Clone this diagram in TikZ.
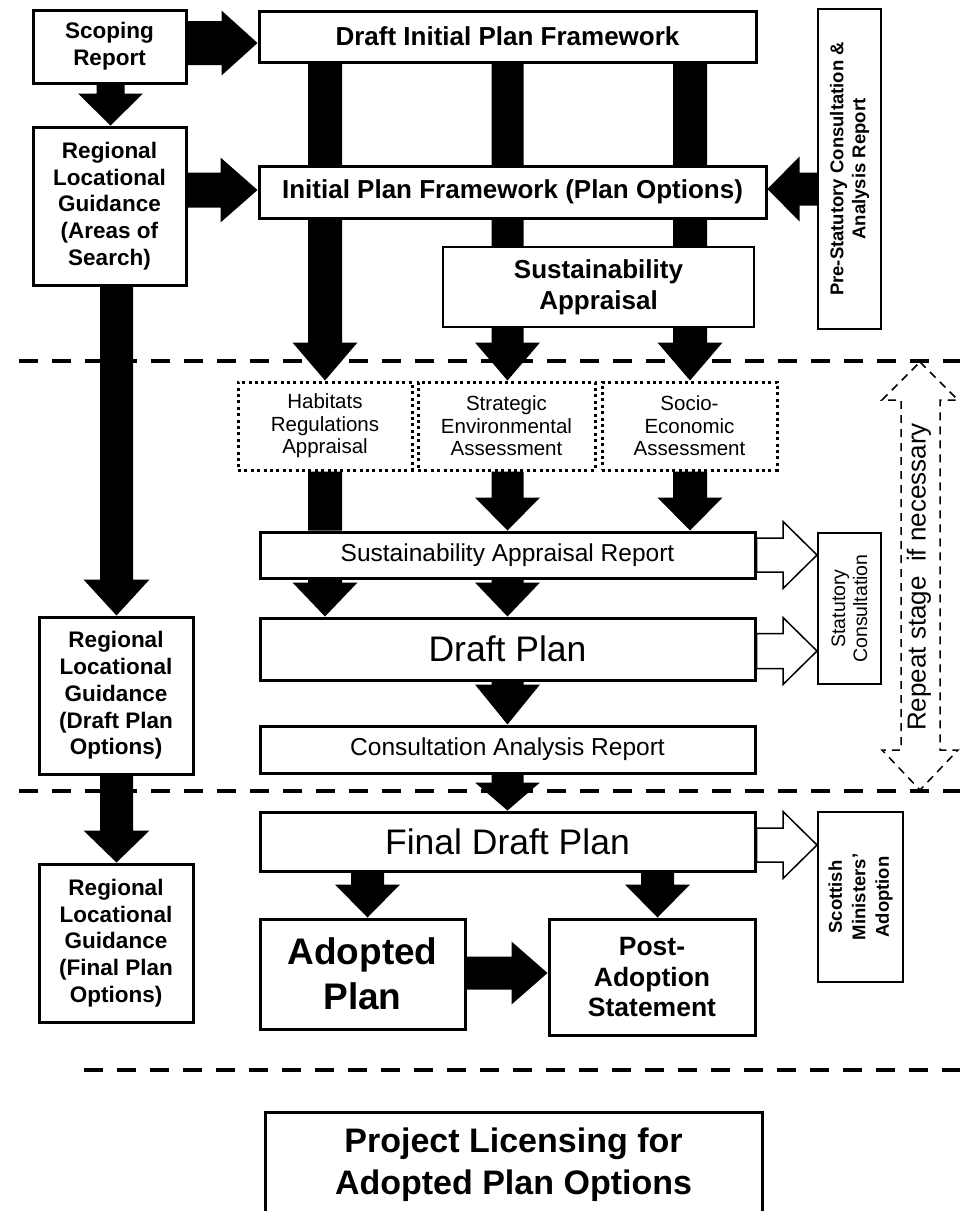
\documentclass[tikz,border=0pt]{standalone}
\usepackage{fontspec}
\setmainfont{Liberation Sans}
\usetikzlibrary{calc,backgrounds}
\newcommand\fs[2]{\fontsize{#1pt}{#2pt}\selectfont}
% down arrow: style, x, from, to, shaft half, head half, head length
\newcommand\darr[7]{%
 \path[#1] let \p1=(#3), \p2=(#4) in
  ({(#2-#5)*1pt},\y1) -- ({(#2+#5)*1pt},\y1) -- ({(#2+#5)*1pt},{\y2+#7pt})
  -- ({(#2+#6)*1pt},{\y2+#7pt}) -- ({#2*1pt},\y2) -- ({(#2-#6)*1pt},{\y2+#7pt})
  -- ({(#2-#5)*1pt},{\y2+#7pt}) -- cycle;}
% right arrow: style, y, from, to, shaft half, head half, head length
\newcommand\rarr[7]{%
 \path[#1] let \p1=(#3), \p2=(#4) in
  (\x1,{-(#2-#5)*1pt}) -- ({\x2-#7pt},{-(#2-#5)*1pt}) -- ({\x2-#7pt},{-(#2-#6)*1pt})
  -- (\x2,{-#2*1pt}) -- ({\x2-#7pt},{-(#2+#6)*1pt}) -- ({\x2-#7pt},{-(#2+#5)*1pt})
  -- (\x1,{-(#2+#5)*1pt}) -- cycle;}
% left arrow
\newcommand\larr[7]{%
 \path[#1] let \p1=(#3), \p2=(#4) in
  (\x1,{-(#2-#5)*1pt}) -- ({\x2+#7pt},{-(#2-#5)*1pt}) -- ({\x2+#7pt},{-(#2-#6)*1pt})
  -- (\x2,{-#2*1pt}) -- ({\x2+#7pt},{-(#2+#6)*1pt}) -- ({\x2+#7pt},{-(#2+#5)*1pt})
  -- (\x1,{-(#2+#5)*1pt}) -- cycle;}
\tikzset{
 box/.style={draw=black, line width=3pt, fill=white, inner sep=0pt, align=center, text=black, line join=miter},
 thinbox/.style={box, line width=1.5pt},
 dotbox/.style={box, dash pattern=on 3pt off 3.4pt},
 blk/.style={fill=black},
 hol/.style={draw=black, fill=white, line width=1.5pt, line join=miter},
 sep/.style={draw=black, line width=4pt, dash pattern=on 19pt off 14pt},
 lbold/.style={font=\fs{22.5}{26.7}\bfseries},
}
\begin{document}
\begin{tikzpicture}[x=1pt,y=-1pt]
\useasboundingbox (0,0) rectangle (960,1211);
% nodes
\node[box, lbold, minimum width=153pt, minimum height=73pt] (scope) at (109.5,46.5) {Scoping\\Report};
\node[box, font=\fs{26}{30}\bfseries, minimum width=497pt, minimum height=51pt] (dipf) at (507.5,36.5) {Draft Initial Plan Framework};
\node[box, line width=2.5pt, rotate=90, font=\fs{18.5}{22}\bfseries, minimum width=320pt, minimum height=63pt] (pre) at (849.5,169) {Pre-Statutory Consultation \&\\Analysis Report};
\node[box, lbold, minimum width=153pt, minimum height=158pt] (rlg1) at (109.5,206) {Regional\\Locational\\Guidance\\(Areas of\\Search)};
\node[box, font=\fs{26}{30}\bfseries, minimum width=507pt, minimum height=52pt] (ipf) at (512.5,192) {Initial Plan Framework (Plan Options)};
\node[thinbox, font=\fs{26}{31}\bfseries, minimum width=311pt, minimum height=80pt] (sa) at (598.5,287) {Sustainability\\Appraisal};
\node[dotbox, font=\fs{20.5}{22.5}, minimum width=174pt, minimum height=88pt] (hra) at (325,426) {Habitats\\Regulations\\Appraisal};
\node[dotbox, font=\fs{20.5}{22.5}, minimum width=177pt, minimum height=88pt] (sea) at (506.5,426) {Strategic\\Environmental\\Assessment};
\node[dotbox, font=\fs{20.5}{22.5}, minimum width=175pt, minimum height=88pt] (sec) at (689.5,426) {Socio-\\Economic\\Assessment};
\node[box, font=\fs{24.5}{28}, minimum width=495pt, minimum height=46pt] (sar) at (507.5,555) {Sustainability Appraisal Report};
\node[box, line width=2pt, rotate=90, font=\fs{19.5}{22}, minimum width=151pt, minimum height=63pt] (stat) at (849.5,608.5) {Statutory\\Consultation};
\node[box, font=\fs{35.5}{40}, minimum width=495pt, minimum height=62pt] (dp) at (507.5,649) {Draft Plan};
\node[box, font=\fs{24.5}{28}, minimum width=495pt, minimum height=47pt] (car) at (507.5,749.5) {Consultation Analysis Report};
\node[box, lbold, minimum width=154pt, minimum height=157pt] (rlg2) at (116,695.5) {Regional\\Locational\\Guidance\\(Draft Plan\\Options)};
\node[box, font=\fs{35.5}{40}, minimum width=495pt, minimum height=59pt] (fdp) at (507.5,841.5) {Final Draft Plan};
\node[box, line width=2pt, rotate=90, font=\fs{18.5}{23.5}\bfseries, minimum width=170pt, minimum height=85pt] (sma) at (860.5,897) {Scottish\\Ministers'\\Adoption};
\node[box, lbold, minimum width=154pt, minimum height=158pt] (rlg3) at (116,943) {Regional\\Locational\\Guidance\\(Final Plan\\Options)};
\node[box, font=\fs{37}{45}\bfseries, minimum width=205pt, minimum height=110pt] (ap) at (362.5,974) {Adopted\\Plan};
\node[box, font=\fs{26.5}{31}\bfseries, minimum width=206pt, minimum height=116pt] (pas) at (652,977) {Post-\\Adoption\\Statement};
\node[box, font=\fs{34}{42}\bfseries, minimum width=497pt, minimum height=106pt] (pl) at (513.5,1165) {Project Licensing for\\Adopted Plan Options};
% repeat stage label
\node[rotate=90, font=\fs{26}{30}, inner sep=0pt] (rep) at (919,577) {Repeat stage\ \ if necessary};
% arrows behind boxes
\begin{pgfonlayer}{background}
\fill[white] (0,0) rectangle (960,1211);
\rarr{blk}{43}{scope.east}{dipf.west}{22}{32.5}{36}
\darr{blk}{110.5}{scope.south}{rlg1.north}{14}{32.5}{32}
\rarr{blk}{190}{rlg1.east}{ipf.west}{17.5}{32.5}{37}
\larr{blk}{189}{pre.north}{ipf.east}{16.5}{32.5}{32}
\darr{blk}{325}{dipf.south}{hra.north}{17}{32.5}{38}
\darr{blk}{507.5}{dipf.south}{sea.north}{16}{32.5}{38}
\darr{blk}{690}{dipf.south}{sec.north}{17}{32.5}{38}
\darr{blk}{325}{hra.south}{sar.north}{17}{17}{0}
\darr{blk}{507.5}{sea.south}{sar.north}{16}{32.5}{33}
\darr{blk}{690}{sec.south}{sar.north}{17}{32.5}{33}
\darr{blk}{325}{sar.south}{dp.north}{17}{32.5}{34}
\darr{blk}{507.5}{sar.south}{dp.north}{16}{32.5}{34}
\darr{blk}{507.5}{dp.south}{car.north}{16}{32.5}{40}
\darr{blk}{507.5}{car.south}{fdp.north}{16}{32.5}{28}
\darr{blk}{367.5}{fdp.south}{ap.north}{16.5}{32.5}{33}
\darr{blk}{657.5}{fdp.south}{pas.north}{16.5}{32.5}{33}
\rarr{blk}{973}{ap.east}{pas.west}{16.5}{31.5}{36}
\darr{blk}{116.5}{rlg1.south}{rlg2.north}{16.5}{33}{36}
\darr{blk}{116.5}{rlg2.south}{rlg3.north}{16.5}{33}{32}
\rarr{hol}{555}{sar.east}{stat.north}{17}{33.5}{34}
\rarr{hol}{651}{dp.east}{stat.north}{17.5}{33.5}{34}
\rarr{hol}{845}{fdp.east}{sma.north}{17}{33.5}{34}
\end{pgfonlayer}
% stage separators
\draw[sep] (19,361) -- (960,361);
\draw[sep] (19,791) -- (960,791);
\draw[sep] (84,1070) -- (960,1070);
% repeat-stage double arrow outline
\draw[line width=1.5pt, dash pattern=on 8pt off 6pt] (920,362) -- (958,400) -- (940,400) -- (940,750) -- (958,750) -- (920,790) -- (882,750) -- (901,750) -- (901,400) -- (882,400) -- cycle;
\end{tikzpicture}
\end{document}
